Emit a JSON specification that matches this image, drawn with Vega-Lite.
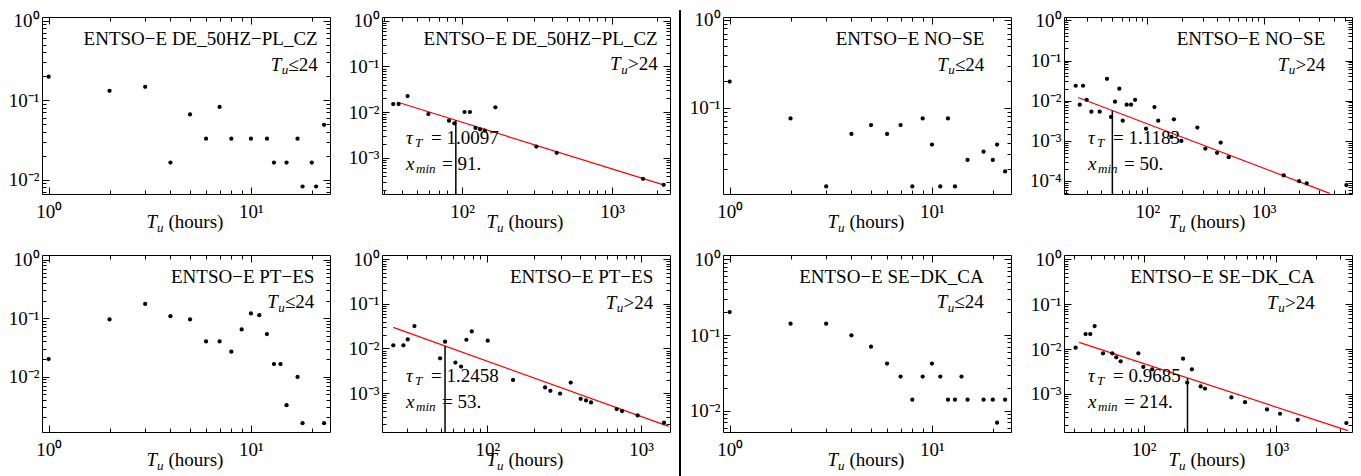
{
"$schema": "https://vega.github.io/schema/vega-lite/v6.json",
"padding": {"left": 7, "top": 8, "right": 5, "bottom": 0},
"background": "white",
"datasets": {
"points": [
{"p":"DE1","x":1,"y":0.197},{"p":"DE1","x":2,"y":0.131},{"p":"DE1","x":3,"y":0.147},{"p":"DE1","x":4,"y":0.0164},{"p":"DE1","x":5,"y":0.066},{"p":"DE1","x":6,"y":0.0328},{"p":"DE1","x":7,"y":0.082},{"p":"DE1","x":8,"y":0.0328},{"p":"DE1","x":10,"y":0.0328},{"p":"DE1","x":12,"y":0.0328},{"p":"DE1","x":13,"y":0.0164},{"p":"DE1","x":15,"y":0.0164},{"p":"DE1","x":17,"y":0.0328},{"p":"DE1","x":18,"y":0.0082},{"p":"DE1","x":20,"y":0.0164},{"p":"DE1","x":21,"y":0.0082},{"p":"DE1","x":23,"y":0.049},
{"p":"NO1","x":1,"y":0.1986},{"p":"NO1","x":2,"y":0.0755},{"p":"NO1","x":3,"y":0.01268},{"p":"NO1","x":4,"y":0.0503},{"p":"NO1","x":5,"y":0.0634},{"p":"NO1","x":6,"y":0.0503},{"p":"NO1","x":7,"y":0.0634},{"p":"NO1","x":8,"y":0.01268},{"p":"NO1","x":9,"y":0.0755},{"p":"NO1","x":10,"y":0.038},{"p":"NO1","x":11,"y":0.01268},{"p":"NO1","x":12,"y":0.0755},{"p":"NO1","x":13,"y":0.01268},{"p":"NO1","x":15,"y":0.0254},{"p":"NO1","x":18,"y":0.0316},{"p":"NO1","x":20,"y":0.0254},{"p":"NO1","x":21,"y":0.038},{"p":"NO1","x":23,"y":0.0188},
{"p":"PT1","x":1,"y":0.02},{"p":"PT1","x":2,"y":0.095},{"p":"PT1","x":3,"y":0.175},{"p":"PT1","x":4,"y":0.108},{"p":"PT1","x":5,"y":0.095},{"p":"PT1","x":6,"y":0.04},{"p":"PT1","x":7,"y":0.04},{"p":"PT1","x":8,"y":0.0267},{"p":"PT1","x":9,"y":0.064},{"p":"PT1","x":10,"y":0.12},{"p":"PT1","x":11,"y":0.112},{"p":"PT1","x":12,"y":0.0534},{"p":"PT1","x":13,"y":0.0164},{"p":"PT1","x":14,"y":0.0164},{"p":"PT1","x":15,"y":0.00325},{"p":"PT1","x":17,"y":0.00986},{"p":"PT1","x":18,"y":0.0016},{"p":"PT1","x":23,"y":0.0016},
{"p":"SE1","x":1,"y":0.201},{"p":"SE1","x":2,"y":0.141},{"p":"SE1","x":3,"y":0.141},{"p":"SE1","x":4,"y":0.099},{"p":"SE1","x":5,"y":0.0701},{"p":"SE1","x":6,"y":0.042},{"p":"SE1","x":7,"y":0.0283},{"p":"SE1","x":8,"y":0.014},{"p":"SE1","x":9,"y":0.0283},{"p":"SE1","x":10,"y":0.042},{"p":"SE1","x":11,"y":0.0283},{"p":"SE1","x":12,"y":0.014},{"p":"SE1","x":13,"y":0.014},{"p":"SE1","x":14,"y":0.0283},{"p":"SE1","x":15,"y":0.014},{"p":"SE1","x":18,"y":0.014},{"p":"SE1","x":20,"y":0.014},{"p":"SE1","x":21,"y":0.00695},{"p":"SE1","x":23,"y":0.014},
{"p":"DE2","x":34.8,"y":0.01507},{"p":"DE2","x":37.8,"y":0.01507},{"p":"DE2","x":43.4,"y":0.02254},{"p":"DE2","x":59.7,"y":0.00912},{"p":"DE2","x":81.9,"y":0.00653},{"p":"DE2","x":88.9,"y":0.0057},{"p":"DE2","x":104,"y":0.01009},{"p":"DE2","x":113,"y":0.01009},{"p":"DE2","x":123,"y":0.00452},{"p":"DE2","x":132,"y":0.00422},{"p":"DE2","x":142,"y":0.00394},{"p":"DE2","x":167,"y":0.01274},{"p":"DE2","x":313,"y":0.00177},{"p":"DE2","x":428,"y":0.00129},{"p":"DE2","x":1610,"y":0.000348},{"p":"DE2","x":2210,"y":0.000258},
{"p":"NO2","x":24.2,"y":0.0235},{"p":"NO2","x":28.0,"y":0.0235},{"p":"NO2","x":26.2,"y":0.0079},{"p":"NO2","x":30.1,"y":0.0105},{"p":"NO2","x":33.0,"y":0.0053},{"p":"NO2","x":38.9,"y":0.0053},{"p":"NO2","x":45.0,"y":0.035},{"p":"NO2","x":48.7,"y":0.00391},{"p":"NO2","x":52.7,"y":0.0094},{"p":"NO2","x":57.4,"y":0.0198},{"p":"NO2","x":61.4,"y":0.00316},{"p":"NO2","x":66.4,"y":0.0079},{"p":"NO2","x":72.4,"y":0.0079},{"p":"NO2","x":78.4,"y":0.0105},{"p":"NO2","x":97.4,"y":0.002},{"p":"NO2","x":115,"y":0.00692},{"p":"NO2","x":124,"y":0.00316},{"p":"NO2","x":161,"y":0.00124},{"p":"NO2","x":169,"y":0.00342},{"p":"NO2","x":196,"y":0.00099},{"p":"NO2","x":269,"y":0.00212},{"p":"NO2","x":315,"y":0.000637},{"p":"NO2","x":397,"y":0.000497},{"p":"NO2","x":427,"y":0.000899},{"p":"NO2","x":500,"y":0.000388},{"p":"NO2","x":1486,"y":0.000136},{"p":"NO2","x":2012,"y":0.000098},{"p":"NO2","x":2343,"y":0.000086},{"p":"NO2","x":5138,"y":0.000078},
{"p":"PT2","x":24.4,"y":0.01177},{"p":"PT2","x":28.4,"y":0.01177},{"p":"PT2","x":30.3,"y":0.016},{"p":"PT2","x":33.5,"y":0.0318},{"p":"PT2","x":49.2,"y":0.00604},{"p":"PT2","x":53.0,"y":0.0142},{"p":"PT2","x":61.9,"y":0.00483},{"p":"PT2","x":67.4,"y":0.00393},{"p":"PT2","x":73.0,"y":0.0157},{"p":"PT2","x":79.1,"y":0.0241},{"p":"PT2","x":100.5,"y":0.015},{"p":"PT2","x":146.9,"y":0.00198},{"p":"PT2","x":237.4,"y":0.00134},{"p":"PT2","x":257,"y":0.00113},{"p":"PT2","x":297,"y":0.00098},{"p":"PT2","x":348.6,"y":0.00173},{"p":"PT2","x":404.9,"y":0.000748},{"p":"PT2","x":438.6,"y":0.000686},{"p":"PT2","x":472.6,"y":0.00062},{"p":"PT2","x":694,"y":0.00044},{"p":"PT2","x":752,"y":0.000397},{"p":"PT2","x":951,"y":0.000318},{"p":"PT2","x":1411,"y":0.000218},
{"p":"SE2","x":30.7,"y":0.0107},{"p":"SE2","x":36.5,"y":0.0216},{"p":"SE2","x":39.6,"y":0.0216},{"p":"SE2","x":42.7,"y":0.0325},{"p":"SE2","x":49.4,"y":0.008},{"p":"SE2","x":58,"y":0.008},{"p":"SE2","x":62.2,"y":0.00653},{"p":"SE2","x":67.1,"y":0.00532},{"p":"SE2","x":91.2,"y":0.008},{"p":"SE2","x":99.4,"y":0.00398},{"p":"SE2","x":116,"y":0.00353},{"p":"SE2","x":198,"y":0.0061},{"p":"SE2","x":213,"y":0.00179},{"p":"SE2","x":231,"y":0.00353},{"p":"SE2","x":269,"y":0.00146},{"p":"SE2","x":290,"y":0.00131},{"p":"SE2","x":458,"y":0.00083},{"p":"SE2","x":581,"y":0.000653},{"p":"SE2","x":851,"y":0.000449},{"p":"SE2","x":1066,"y":0.00036},{"p":"SE2","x":1449,"y":0.000264},{"p":"SE2","x":3371,"y":0.000223}
],
"fits": [
{"p":"DE2","x":36.9,"y":0.01667},{"p":"DE2","x":2233,"y":0.000253},
{"p":"NO2","x":25.4,"y":0.012},{"p":"NO2","x":3690,"y":0.0000485},
{"p":"PT2","x":24.4,"y":0.02965},{"p":"PT2","x":1514,"y":0.000181},
{"p":"SE2","x":32.6,"y":0.01406},{"p":"SE2","x":3467,"y":0.000151}
],
"xmins": [
{"p":"DE2","x":91,"ylo":0.000162,"yhi":0.0067},
{"p":"NO2","x":50,"ylo":0.0000468,"yhi":0.00566},
{"p":"PT2","x":53,"ylo":0.000135,"yhi":0.01137},
{"p":"SE2","x":214,"ylo":0.000141,"yhi":0.00225}
]
},
"spacing": 7,
"hconcat": [
{"columns": 2, "spacing": {"row": 14, "column": 16}, "concat": [
{"width": 288, "height": 177, "resolve": {"axis": {"x": "independent", "y": "independent"}}, "layer": [
 {"data": {"name": "points"}, "transform": [{"filter": "datum.p === 'DE1'"}], "mark": {"type": "circle", "size": 18, "color": "black", "opacity": 1},
  "encoding": {
   "x": {"field": "x", "type": "quantitative", "scale": {"type": "log", "domain": [0.927, 24.6], "nice": false}, "axis": {"orient": "bottom", "tickColor": "black", "tickWidth": 1, "offset": -7, "tickSize": 7, "values": [1, 10], "labels": true, "labelPadding": 8, "labelExpr": "datum.value >= 999 ? '10³' : datum.value >= 99 ? '10²' : datum.value >= 9 ? '10¹' : datum.value >= 0.9 ? '10⁰' : datum.value >= 0.09 ? '10⁻¹' : datum.value >= 0.009 ? '10⁻²' : datum.value >= 0.0009 ? '10⁻³' : '10⁻⁴'", "title": "T", "titleFontStyle": "italic", "titleX": 104, "titleY": 40, "titleAlign": "left", "titleBaseline": "alphabetic"}},
   "y": {"field": "y", "type": "quantitative", "scale": {"type": "log", "domain": [0.0066, 1.11], "nice": false}, "axis": {"orient": "left", "tickColor": "black", "tickWidth": 1, "offset": -7, "tickSize": 7, "values": [0.01, 0.1, 1], "labels": true, "labelPadding": 3, "labelExpr": "datum.value >= 999 ? '10³' : datum.value >= 99 ? '10²' : datum.value >= 9 ? '10¹' : datum.value >= 0.9 ? '10⁰' : datum.value >= 0.09 ? '10⁻¹' : datum.value >= 0.009 ? '10⁻²' : datum.value >= 0.0009 ? '10⁻³' : '10⁻⁴'", "title": null}}
  }},
 {"data": {"values": [{}]}, "mark": {"type": "text", "align": "right", "text": "ENTSO−E DE_50HZ−PL_CZ"},
  "encoding": {
   "x": {"datum": 21.39, "type": "quantitative", "axis": {"orient": "bottom", "tickColor": "black", "tickWidth": 1, "offset": -4, "tickSize": 4, "values": [2,3,4,5,6,7,8,9,20], "title": "u", "titleFontStyle": "italic", "titleFontSize": 13, "titleX": 114.6, "titleY": 41, "titleAlign": "left", "titleBaseline": "alphabetic"}},
   "y": {"datum": 0.493, "type": "quantitative", "axis": {"orient": "left", "tickColor": "black", "tickWidth": 1, "offset": -4, "tickSize": 4, "values": [0.007,0.008,0.009,0.02,0.03,0.04,0.05,0.06,0.07,0.08,0.09,0.2,0.3,0.4,0.5,0.6,0.7,0.8,0.9], "title": null}}
  }},
 {"data": {"values": [{}]}, "mark": {"type": "text", "align": "right", "fontStyle": "italic", "dx": -36.5, "text": "T"},
  "encoding": {
   "x": {"datum": 21.39, "type": "quantitative", "axis": {"orient": "top", "tickColor": "black", "tickWidth": 1, "offset": -7, "tickSize": 7, "values": [1, 10], "title": null}},
   "y": {"datum": 0.2358, "type": "quantitative", "axis": {"orient": "right", "tickColor": "black", "tickWidth": 1, "offset": -7, "tickSize": 7, "values": [0.01, 0.1, 1], "title": null}}
  }},
 {"data": {"values": [{}]}, "mark": {"type": "text", "align": "right", "fontStyle": "italic", "fontSize": 13, "dx": -29.5, "dy": 3.5, "text": "u"},
  "encoding": {
   "x": {"datum": 21.39, "type": "quantitative", "axis": {"orient": "top", "tickColor": "black", "tickWidth": 1, "offset": -4, "tickSize": 4, "values": [2,3,4,5,6,7,8,9,20], "title": null}},
   "y": {"datum": 0.2358, "type": "quantitative", "axis": {"orient": "right", "tickColor": "black", "tickWidth": 1, "offset": -4, "tickSize": 4, "values": [0.007,0.008,0.009,0.02,0.03,0.04,0.05,0.06,0.07,0.08,0.09,0.2,0.3,0.4,0.5,0.6,0.7,0.8,0.9], "title": null}}
  }},
 {"data": {"values": [{}]}, "mark": {"type": "text", "align": "right", "text": "≤24"},
  "encoding": {
   "x": {"datum": 21.39, "type": "quantitative", "axis": {"orient": "bottom", "ticks": false, "values": [1], "title": "(hours)", "titleX": 126, "titleY": 33, "titleAlign": "left", "titleBaseline": "alphabetic"}},
   "y": {"datum": 0.2358, "type": "quantitative", "axis": null}
  }}
]},
{"width": 288, "height": 177, "resolve": {"axis": {"x": "independent", "y": "independent"}}, "layer": [
 {"data": {"name": "fits"}, "transform": [{"filter": "datum.p === 'DE2'"}], "mark": {"type": "line", "color": "red", "strokeWidth": 1.2},
  "encoding": {"x": {"field": "x", "type": "quantitative", "axis": null}, "y": {"field": "y", "type": "quantitative", "axis": null}}},
 {"data": {"name": "xmins"}, "transform": [{"filter": "datum.p === 'DE2'"}], "mark": {"type": "rule", "color": "black", "strokeWidth": 1.5},
  "encoding": {"x": {"field": "x", "type": "quantitative", "axis": null}, "y": {"field": "ylo", "type": "quantitative", "axis": null}, "y2": {"field": "yhi"}}},
 {"data": {"name": "points"}, "transform": [{"filter": "datum.p === 'DE2'"}], "mark": {"type": "circle", "size": 18, "color": "black", "opacity": 1},
  "encoding": {
   "x": {"field": "x", "type": "quantitative", "scale": {"type": "log", "domain": [29.3, 2436], "nice": false}, "axis": {"orient": "bottom", "tickColor": "black", "tickWidth": 1, "offset": -7, "tickSize": 7, "values": [100, 1000], "labels": true, "labelPadding": 8, "labelExpr": "datum.value >= 999 ? '10³' : datum.value >= 99 ? '10²' : datum.value >= 9 ? '10¹' : datum.value >= 0.9 ? '10⁰' : datum.value >= 0.09 ? '10⁻¹' : datum.value >= 0.009 ? '10⁻²' : datum.value >= 0.0009 ? '10⁻³' : '10⁻⁴'", "title": "T", "titleFontStyle": "italic", "titleX": 104, "titleY": 40, "titleAlign": "left", "titleBaseline": "alphabetic"}},
   "y": {"field": "y", "type": "quantitative", "scale": {"type": "log", "domain": [0.000162, 1.21], "nice": false}, "axis": {"orient": "left", "tickColor": "black", "tickWidth": 1, "offset": -7, "tickSize": 7, "values": [0.001, 0.01, 0.1, 1], "labels": true, "labelPadding": 3, "labelExpr": "datum.value >= 999 ? '10³' : datum.value >= 99 ? '10²' : datum.value >= 9 ? '10¹' : datum.value >= 0.9 ? '10⁰' : datum.value >= 0.09 ? '10⁻¹' : datum.value >= 0.009 ? '10⁻²' : datum.value >= 0.0009 ? '10⁻³' : '10⁻⁴'", "title": null}}
  }},
 {"data": {"values": [{}]}, "mark": {"type": "text", "align": "right", "text": "ENTSO−E DE_50HZ−PL_CZ"},
  "encoding": {
   "x": {"datum": 2017, "type": "quantitative", "axis": {"orient": "bottom", "tickColor": "black", "tickWidth": 1, "offset": -4, "tickSize": 4, "values": [30,40,50,60,70,80,90,200,300,400,500,600,700,800,900,2000], "title": "u", "titleFontStyle": "italic", "titleFontSize": 13, "titleX": 114.6, "titleY": 41, "titleAlign": "left", "titleBaseline": "alphabetic"}},
   "y": {"datum": 0.2954, "type": "quantitative", "axis": {"orient": "left", "tickColor": "black", "tickWidth": 1, "offset": -4, "tickSize": 4, "values": [0.0002,0.0003,0.0004,0.0005,0.0006,0.0007,0.0008,0.0009,0.002,0.003,0.004,0.005,0.006,0.007,0.008,0.009,0.02,0.03,0.04,0.05,0.06,0.07,0.08,0.09,0.2,0.3,0.4,0.5,0.6,0.7,0.8,0.9], "title": null}}
  }},
 {"data": {"values": [{}]}, "mark": {"type": "text", "align": "right", "fontStyle": "italic", "dx": -37, "text": "T"},
  "encoding": {
   "x": {"datum": 2017, "type": "quantitative", "axis": {"orient": "top", "tickColor": "black", "tickWidth": 1, "offset": -7, "tickSize": 7, "values": [100, 1000], "title": null}},
   "y": {"datum": 0.08171, "type": "quantitative", "axis": {"orient": "right", "tickColor": "black", "tickWidth": 1, "offset": -7, "tickSize": 7, "values": [0.001, 0.01, 0.1, 1], "title": null}}
  }},
 {"data": {"values": [{}]}, "mark": {"type": "text", "align": "right", "fontStyle": "italic", "fontSize": 13, "dx": -30, "dy": 3.5, "text": "u"},
  "encoding": {
   "x": {"datum": 2017, "type": "quantitative", "axis": {"orient": "top", "tickColor": "black", "tickWidth": 1, "offset": -4, "tickSize": 4, "values": [30,40,50,60,70,80,90,200,300,400,500,600,700,800,900,2000], "title": null}},
   "y": {"datum": 0.08171, "type": "quantitative", "axis": {"orient": "right", "tickColor": "black", "tickWidth": 1, "offset": -4, "tickSize": 4, "values": [0.0002,0.0003,0.0004,0.0005,0.0006,0.0007,0.0008,0.0009,0.002,0.003,0.004,0.005,0.006,0.007,0.008,0.009,0.02,0.03,0.04,0.05,0.06,0.07,0.08,0.09,0.2,0.3,0.4,0.5,0.6,0.7,0.8,0.9], "title": null}}
  }},
 {"data": {"values": [{}]}, "mark": {"type": "text", "align": "right", "text": ">24"},
  "encoding": {
   "x": {"datum": 2017, "type": "quantitative", "axis": {"orient": "bottom", "ticks": false, "values": [100], "title": "(hours)", "titleX": 126, "titleY": 33, "titleAlign": "left", "titleBaseline": "alphabetic"}},
   "y": {"datum": 0.08171, "type": "quantitative", "axis": null}
  }},
 {"data": {"values": [{}]}, "mark": {"type": "text", "align": "left", "fontStyle": "italic", "text": "τ"},
  "encoding": {"x": {"datum": 42.37, "type": "quantitative", "axis": null}, "y": {"datum": 0.002014, "type": "quantitative", "axis": null}}},
 {"data": {"values": [{}]}, "mark": {"type": "text", "align": "left", "fontStyle": "italic", "fontSize": 13, "dx": 9, "dy": 3, "text": "T"},
  "encoding": {"x": {"datum": 42.37, "type": "quantitative", "axis": null}, "y": {"datum": 0.002014, "type": "quantitative", "axis": null}}},
 {"data": {"values": [{}]}, "mark": {"type": "text", "align": "left", "dx": 25, "text": "= 1.0097"},
  "encoding": {"x": {"datum": 42.37, "type": "quantitative", "axis": null}, "y": {"datum": 0.002014, "type": "quantitative", "axis": null}}},
 {"data": {"values": [{}]}, "mark": {"type": "text", "align": "left", "fontStyle": "italic", "text": "x"},
  "encoding": {"x": {"datum": 42.37, "type": "quantitative", "axis": null}, "y": {"datum": 0.000543, "type": "quantitative", "axis": null}}},
 {"data": {"values": [{}]}, "mark": {"type": "text", "align": "left", "fontStyle": "italic", "fontSize": 13, "dx": 10, "dy": 3, "text": "min"},
  "encoding": {"x": {"datum": 42.37, "type": "quantitative", "axis": null}, "y": {"datum": 0.000543, "type": "quantitative", "axis": null}}},
 {"data": {"values": [{}]}, "mark": {"type": "text", "align": "left", "dx": 36, "text": "= 91."},
  "encoding": {"x": {"datum": 42.37, "type": "quantitative", "axis": null}, "y": {"datum": 0.000543, "type": "quantitative", "axis": null}}}
]},
{"width": 288, "height": 177, "resolve": {"axis": {"x": "independent", "y": "independent"}}, "layer": [
 {"data": {"name": "points"}, "transform": [{"filter": "datum.p === 'PT1'"}], "mark": {"type": "circle", "size": 18, "color": "black", "opacity": 1},
  "encoding": {
   "x": {"field": "x", "type": "quantitative", "scale": {"type": "log", "domain": [0.927, 24.6], "nice": false}, "axis": {"orient": "bottom", "tickColor": "black", "tickWidth": 1, "offset": -7, "tickSize": 7, "values": [1, 10], "labels": true, "labelPadding": 8, "labelExpr": "datum.value >= 999 ? '10³' : datum.value >= 99 ? '10²' : datum.value >= 9 ? '10¹' : datum.value >= 0.9 ? '10⁰' : datum.value >= 0.09 ? '10⁻¹' : datum.value >= 0.009 ? '10⁻²' : datum.value >= 0.0009 ? '10⁻³' : '10⁻⁴'", "title": "T", "titleFontStyle": "italic", "titleX": 104, "titleY": 40, "titleAlign": "left", "titleBaseline": "alphabetic"}},
   "y": {"field": "y", "type": "quantitative", "scale": {"type": "log", "domain": [0.00113, 1.2], "nice": false}, "axis": {"orient": "left", "tickColor": "black", "tickWidth": 1, "offset": -7, "tickSize": 7, "values": [0.01, 0.1, 1], "labels": true, "labelPadding": 3, "labelExpr": "datum.value >= 999 ? '10³' : datum.value >= 99 ? '10²' : datum.value >= 9 ? '10¹' : datum.value >= 0.9 ? '10⁰' : datum.value >= 0.09 ? '10⁻¹' : datum.value >= 0.009 ? '10⁻²' : datum.value >= 0.0009 ? '10⁻³' : '10⁻⁴'", "title": null}}
  }},
 {"data": {"values": [{}]}, "mark": {"type": "text", "align": "right", "text": "ENTSO−E PT−ES"},
  "encoding": {
   "x": {"datum": 20.58, "type": "quantitative", "axis": {"orient": "bottom", "tickColor": "black", "tickWidth": 1, "offset": -4, "tickSize": 4, "values": [2,3,4,5,6,7,8,9,20], "title": "u", "titleFontStyle": "italic", "titleFontSize": 13, "titleX": 114.6, "titleY": 41, "titleAlign": "left", "titleBaseline": "alphabetic"}},
   "y": {"datum": 0.3984, "type": "quantitative", "axis": {"orient": "left", "tickColor": "black", "tickWidth": 1, "offset": -4, "tickSize": 4, "values": [0.002,0.003,0.004,0.005,0.006,0.007,0.008,0.009,0.02,0.03,0.04,0.05,0.06,0.07,0.08,0.09,0.2,0.3,0.4,0.5,0.6,0.7,0.8,0.9], "title": null}}
  }},
 {"data": {"values": [{}]}, "mark": {"type": "text", "align": "right", "fontStyle": "italic", "dx": -36.5, "text": "T"},
  "encoding": {
   "x": {"datum": 20.58, "type": "quantitative", "axis": {"orient": "top", "tickColor": "black", "tickWidth": 1, "offset": -7, "tickSize": 7, "values": [1, 10], "title": null}},
   "y": {"datum": 0.1461, "type": "quantitative", "axis": {"orient": "right", "tickColor": "black", "tickWidth": 1, "offset": -7, "tickSize": 7, "values": [0.01, 0.1, 1], "title": null}}
  }},
 {"data": {"values": [{}]}, "mark": {"type": "text", "align": "right", "fontStyle": "italic", "fontSize": 13, "dx": -29.5, "dy": 3.5, "text": "u"},
  "encoding": {
   "x": {"datum": 20.58, "type": "quantitative", "axis": {"orient": "top", "tickColor": "black", "tickWidth": 1, "offset": -4, "tickSize": 4, "values": [2,3,4,5,6,7,8,9,20], "title": null}},
   "y": {"datum": 0.1461, "type": "quantitative", "axis": {"orient": "right", "tickColor": "black", "tickWidth": 1, "offset": -4, "tickSize": 4, "values": [0.002,0.003,0.004,0.005,0.006,0.007,0.008,0.009,0.02,0.03,0.04,0.05,0.06,0.07,0.08,0.09,0.2,0.3,0.4,0.5,0.6,0.7,0.8,0.9], "title": null}}
  }},
 {"data": {"values": [{}]}, "mark": {"type": "text", "align": "right", "text": "≤24"},
  "encoding": {
   "x": {"datum": 20.58, "type": "quantitative", "axis": {"orient": "bottom", "ticks": false, "values": [1], "title": "(hours)", "titleX": 126, "titleY": 33, "titleAlign": "left", "titleBaseline": "alphabetic"}},
   "y": {"datum": 0.1461, "type": "quantitative", "axis": null}
  }}
]},
{"width": 288, "height": 177, "resolve": {"axis": {"x": "independent", "y": "independent"}}, "layer": [
 {"data": {"name": "fits"}, "transform": [{"filter": "datum.p === 'PT2'"}], "mark": {"type": "line", "color": "red", "strokeWidth": 1.2},
  "encoding": {"x": {"field": "x", "type": "quantitative", "axis": null}, "y": {"field": "y", "type": "quantitative", "axis": null}}},
 {"data": {"name": "xmins"}, "transform": [{"filter": "datum.p === 'PT2'"}], "mark": {"type": "rule", "color": "black", "strokeWidth": 1.5},
  "encoding": {"x": {"field": "x", "type": "quantitative", "axis": null}, "y": {"field": "ylo", "type": "quantitative", "axis": null}, "y2": {"field": "yhi"}}},
 {"data": {"name": "points"}, "transform": [{"filter": "datum.p === 'PT2'"}], "mark": {"type": "circle", "size": 18, "color": "black", "opacity": 1},
  "encoding": {
   "x": {"field": "x", "type": "quantitative", "scale": {"type": "log", "domain": [20.6, 1544], "nice": false}, "axis": {"orient": "bottom", "tickColor": "black", "tickWidth": 1, "offset": -7, "tickSize": 7, "values": [100, 1000], "labels": true, "labelPadding": 8, "labelExpr": "datum.value >= 999 ? '10³' : datum.value >= 99 ? '10²' : datum.value >= 9 ? '10¹' : datum.value >= 0.9 ? '10⁰' : datum.value >= 0.09 ? '10⁻¹' : datum.value >= 0.009 ? '10⁻²' : datum.value >= 0.0009 ? '10⁻³' : '10⁻⁴'", "title": "T", "titleFontStyle": "italic", "titleX": 104, "titleY": 40, "titleAlign": "left", "titleBaseline": "alphabetic"}},
   "y": {"field": "y", "type": "quantitative", "scale": {"type": "log", "domain": [0.000135, 1.24], "nice": false}, "axis": {"orient": "left", "tickColor": "black", "tickWidth": 1, "offset": -7, "tickSize": 7, "values": [0.001, 0.01, 0.1, 1], "labels": true, "labelPadding": 3, "labelExpr": "datum.value >= 999 ? '10³' : datum.value >= 99 ? '10²' : datum.value >= 9 ? '10¹' : datum.value >= 0.9 ? '10⁰' : datum.value >= 0.09 ? '10⁻¹' : datum.value >= 0.009 ? '10⁻²' : datum.value >= 0.0009 ? '10⁻³' : '10⁻⁴'", "title": null}}
  }},
 {"data": {"values": [{}]}, "mark": {"type": "text", "align": "right", "text": "ENTSO−E PT−ES"},
  "encoding": {
   "x": {"datum": 1202, "type": "quantitative", "axis": {"orient": "bottom", "tickColor": "black", "tickWidth": 1, "offset": -4, "tickSize": 4, "values": [30,40,50,60,70,80,90,200,300,400,500,600,700,800,900], "title": "u", "titleFontStyle": "italic", "titleFontSize": 13, "titleX": 114.6, "titleY": 41, "titleAlign": "left", "titleBaseline": "alphabetic"}},
   "y": {"datum": 0.2924, "type": "quantitative", "axis": {"orient": "left", "tickColor": "black", "tickWidth": 1, "offset": -4, "tickSize": 4, "values": [0.0002,0.0003,0.0004,0.0005,0.0006,0.0007,0.0008,0.0009,0.002,0.003,0.004,0.005,0.006,0.007,0.008,0.009,0.02,0.03,0.04,0.05,0.06,0.07,0.08,0.09,0.2,0.3,0.4,0.5,0.6,0.7,0.8,0.9], "title": null}}
  }},
 {"data": {"values": [{}]}, "mark": {"type": "text", "align": "right", "fontStyle": "italic", "dx": -37, "text": "T"},
  "encoding": {
   "x": {"datum": 1202, "type": "quantitative", "axis": {"orient": "top", "tickColor": "black", "tickWidth": 1, "offset": -7, "tickSize": 7, "values": [100, 1000], "title": null}},
   "y": {"datum": 0.07852, "type": "quantitative", "axis": {"orient": "right", "tickColor": "black", "tickWidth": 1, "offset": -7, "tickSize": 7, "values": [0.001, 0.01, 0.1, 1], "title": null}}
  }},
 {"data": {"values": [{}]}, "mark": {"type": "text", "align": "right", "fontStyle": "italic", "fontSize": 13, "dx": -30, "dy": 3.5, "text": "u"},
  "encoding": {
   "x": {"datum": 1202, "type": "quantitative", "axis": {"orient": "top", "tickColor": "black", "tickWidth": 1, "offset": -4, "tickSize": 4, "values": [30,40,50,60,70,80,90,200,300,400,500,600,700,800,900], "title": null}},
   "y": {"datum": 0.07852, "type": "quantitative", "axis": {"orient": "right", "tickColor": "black", "tickWidth": 1, "offset": -4, "tickSize": 4, "values": [0.0002,0.0003,0.0004,0.0005,0.0006,0.0007,0.0008,0.0009,0.002,0.003,0.004,0.005,0.006,0.007,0.008,0.009,0.02,0.03,0.04,0.05,0.06,0.07,0.08,0.09,0.2,0.3,0.4,0.5,0.6,0.7,0.8,0.9], "title": null}}
  }},
 {"data": {"values": [{}]}, "mark": {"type": "text", "align": "right", "text": ">24"},
  "encoding": {
   "x": {"datum": 1202, "type": "quantitative", "axis": {"orient": "bottom", "ticks": false, "values": [100], "title": "(hours)", "titleX": 126, "titleY": 33, "titleAlign": "left", "titleBaseline": "alphabetic"}},
   "y": {"datum": 0.07852, "type": "quantitative", "axis": null}
  }},
 {"data": {"values": [{}]}, "mark": {"type": "text", "align": "left", "fontStyle": "italic", "text": "τ"},
  "encoding": {"x": {"datum": 29.52, "type": "quantitative", "axis": null}, "y": {"datum": 0.001775, "type": "quantitative", "axis": null}}},
 {"data": {"values": [{}]}, "mark": {"type": "text", "align": "left", "fontStyle": "italic", "fontSize": 13, "dx": 9, "dy": 3, "text": "T"},
  "encoding": {"x": {"datum": 29.52, "type": "quantitative", "axis": null}, "y": {"datum": 0.001775, "type": "quantitative", "axis": null}}},
 {"data": {"values": [{}]}, "mark": {"type": "text", "align": "left", "dx": 25, "text": "= 1.2458"},
  "encoding": {"x": {"datum": 29.52, "type": "quantitative", "axis": null}, "y": {"datum": 0.001775, "type": "quantitative", "axis": null}}},
 {"data": {"values": [{}]}, "mark": {"type": "text", "align": "left", "fontStyle": "italic", "text": "x"},
  "encoding": {"x": {"datum": 29.52, "type": "quantitative", "axis": null}, "y": {"datum": 0.0004646, "type": "quantitative", "axis": null}}},
 {"data": {"values": [{}]}, "mark": {"type": "text", "align": "left", "fontStyle": "italic", "fontSize": 13, "dx": 10, "dy": 3, "text": "min"},
  "encoding": {"x": {"datum": 29.52, "type": "quantitative", "axis": null}, "y": {"datum": 0.0004646, "type": "quantitative", "axis": null}}},
 {"data": {"values": [{}]}, "mark": {"type": "text", "align": "left", "dx": 36, "text": "= 53."},
  "encoding": {"x": {"datum": 29.52, "type": "quantitative", "axis": null}, "y": {"datum": 0.0004646, "type": "quantitative", "axis": null}}}
]}
]},
{"width": 2, "height": 461, "view": {"stroke": null}, "data": {"values": [{}]},
 "mark": {"type": "rule", "color": "black", "strokeWidth": 2},
 "encoding": {
  "x": {"datum": 0.5, "type": "quantitative", "scale": {"domain": [0, 1]}, "axis": null},
  "y": {"datum": 0, "type": "quantitative", "scale": {"domain": [0, 1], "nice": false, "zero": false}, "axis": null},
  "y2": {"datum": 1.0152}
 }},
{"columns": 2, "spacing": {"row": 14, "column": 16}, "concat": [
{"width": 288, "height": 177, "resolve": {"axis": {"x": "independent", "y": "independent"}}, "layer": [
 {"data": {"name": "points"}, "transform": [{"filter": "datum.p === 'NO1'"}], "mark": {"type": "circle", "size": 18, "color": "black", "opacity": 1},
  "encoding": {
   "x": {"field": "x", "type": "quantitative", "scale": {"type": "log", "domain": [0.927, 24.6], "nice": false}, "axis": {"orient": "bottom", "tickColor": "black", "tickWidth": 1, "offset": -7, "tickSize": 7, "values": [1, 10], "labels": true, "labelPadding": 8, "labelExpr": "datum.value >= 999 ? '10³' : datum.value >= 99 ? '10²' : datum.value >= 9 ? '10¹' : datum.value >= 0.9 ? '10⁰' : datum.value >= 0.09 ? '10⁻¹' : datum.value >= 0.009 ? '10⁻²' : datum.value >= 0.0009 ? '10⁻³' : '10⁻⁴'", "title": "T", "titleFontStyle": "italic", "titleX": 104, "titleY": 40, "titleAlign": "left", "titleBaseline": "alphabetic"}},
   "y": {"field": "y", "type": "quantitative", "scale": {"type": "log", "domain": [0.0104, 1.08], "nice": false}, "axis": {"orient": "left", "tickColor": "black", "tickWidth": 1, "offset": -7, "tickSize": 7, "values": [0.1, 1], "labels": true, "labelPadding": 3, "labelExpr": "datum.value >= 999 ? '10³' : datum.value >= 99 ? '10²' : datum.value >= 9 ? '10¹' : datum.value >= 0.9 ? '10⁰' : datum.value >= 0.09 ? '10⁻¹' : datum.value >= 0.009 ? '10⁻²' : datum.value >= 0.0009 ? '10⁻³' : '10⁻⁴'", "title": null}}
  }},
 {"data": {"values": [{}]}, "mark": {"type": "text", "align": "right", "text": "ENTSO−E NO−SE"},
  "encoding": {
   "x": {"datum": 18.16, "type": "quantitative", "axis": {"orient": "bottom", "tickColor": "black", "tickWidth": 1, "offset": -4, "tickSize": 4, "values": [2,3,4,5,6,7,8,9,20], "title": "u", "titleFontStyle": "italic", "titleFontSize": 13, "titleX": 114.6, "titleY": 41, "titleAlign": "left", "titleBaseline": "alphabetic"}},
   "y": {"datum": 0.5176, "type": "quantitative", "axis": {"orient": "left", "tickColor": "black", "tickWidth": 1, "offset": -4, "tickSize": 4, "values": [0.02,0.03,0.04,0.05,0.06,0.07,0.08,0.09,0.2,0.3,0.4,0.5,0.6,0.7,0.8,0.9], "title": null}}
  }},
 {"data": {"values": [{}]}, "mark": {"type": "text", "align": "right", "fontStyle": "italic", "dx": -36.5, "text": "T"},
  "encoding": {
   "x": {"datum": 18.16, "type": "quantitative", "axis": {"orient": "top", "tickColor": "black", "tickWidth": 1, "offset": -7, "tickSize": 7, "values": [1, 10], "title": null}},
   "y": {"datum": 0.2654, "type": "quantitative", "axis": {"orient": "right", "tickColor": "black", "tickWidth": 1, "offset": -7, "tickSize": 7, "values": [0.1, 1], "title": null}}
  }},
 {"data": {"values": [{}]}, "mark": {"type": "text", "align": "right", "fontStyle": "italic", "fontSize": 13, "dx": -29.5, "dy": 3.5, "text": "u"},
  "encoding": {
   "x": {"datum": 18.16, "type": "quantitative", "axis": {"orient": "top", "tickColor": "black", "tickWidth": 1, "offset": -4, "tickSize": 4, "values": [2,3,4,5,6,7,8,9,20], "title": null}},
   "y": {"datum": 0.2654, "type": "quantitative", "axis": {"orient": "right", "tickColor": "black", "tickWidth": 1, "offset": -4, "tickSize": 4, "values": [0.02,0.03,0.04,0.05,0.06,0.07,0.08,0.09,0.2,0.3,0.4,0.5,0.6,0.7,0.8,0.9], "title": null}}
  }},
 {"data": {"values": [{}]}, "mark": {"type": "text", "align": "right", "text": "≤24"},
  "encoding": {
   "x": {"datum": 18.16, "type": "quantitative", "axis": {"orient": "bottom", "ticks": false, "values": [1], "title": "(hours)", "titleX": 126, "titleY": 33, "titleAlign": "left", "titleBaseline": "alphabetic"}},
   "y": {"datum": 0.2654, "type": "quantitative", "axis": null}
  }}
]},
{"width": 288, "height": 177, "resolve": {"axis": {"x": "independent", "y": "independent"}}, "layer": [
 {"data": {"name": "fits"}, "transform": [{"filter": "datum.p === 'NO2'"}], "mark": {"type": "line", "color": "red", "strokeWidth": 1.2},
  "encoding": {"x": {"field": "x", "type": "quantitative", "axis": null}, "y": {"field": "y", "type": "quantitative", "axis": null}}},
 {"data": {"name": "xmins"}, "transform": [{"filter": "datum.p === 'NO2'"}], "mark": {"type": "rule", "color": "black", "strokeWidth": 1.5},
  "encoding": {"x": {"field": "x", "type": "quantitative", "axis": null}, "y": {"field": "ylo", "type": "quantitative", "axis": null}, "y2": {"field": "yhi"}}},
 {"data": {"name": "points"}, "transform": [{"filter": "datum.p === 'NO2'"}], "mark": {"type": "circle", "size": 18, "color": "black", "opacity": 1},
  "encoding": {
   "x": {"field": "x", "type": "quantitative", "scale": {"type": "log", "domain": [19.2, 5740], "nice": false}, "axis": {"orient": "bottom", "tickColor": "black", "tickWidth": 1, "offset": -7, "tickSize": 7, "values": [100, 1000], "labels": true, "labelPadding": 8, "labelExpr": "datum.value >= 999 ? '10³' : datum.value >= 99 ? '10²' : datum.value >= 9 ? '10¹' : datum.value >= 0.9 ? '10⁰' : datum.value >= 0.09 ? '10⁻¹' : datum.value >= 0.009 ? '10⁻²' : datum.value >= 0.0009 ? '10⁻³' : '10⁻⁴'", "title": "T", "titleFontStyle": "italic", "titleX": 104, "titleY": 40, "titleAlign": "left", "titleBaseline": "alphabetic"}},
   "y": {"field": "y", "type": "quantitative", "scale": {"type": "log", "domain": [0.0000468, 1.22], "nice": false}, "axis": {"orient": "left", "tickColor": "black", "tickWidth": 1, "offset": -7, "tickSize": 7, "values": [0.0001, 0.001, 0.01, 0.1, 1], "labels": true, "labelPadding": 3, "labelExpr": "datum.value >= 999 ? '10³' : datum.value >= 99 ? '10²' : datum.value >= 9 ? '10¹' : datum.value >= 0.9 ? '10⁰' : datum.value >= 0.09 ? '10⁻¹' : datum.value >= 0.009 ? '10⁻²' : datum.value >= 0.0009 ? '10⁻³' : '10⁻⁴'", "title": null}}
  }},
 {"data": {"values": [{}]}, "mark": {"type": "text", "align": "right", "text": "ENTSO−E NO−SE"},
  "encoding": {
   "x": {"datum": 3382, "type": "quantitative", "axis": {"orient": "bottom", "tickColor": "black", "tickWidth": 1, "offset": -4, "tickSize": 4, "values": [20,30,40,50,60,70,80,90,200,300,400,500,600,700,800,900,2000,3000,4000,5000], "title": "u", "titleFontStyle": "italic", "titleFontSize": 13, "titleX": 114.6, "titleY": 41, "titleAlign": "left", "titleBaseline": "alphabetic"}},
   "y": {"datum": 0.244, "type": "quantitative", "axis": {"orient": "left", "tickColor": "black", "tickWidth": 1, "offset": -4, "tickSize": 4, "values": [0.00005,0.00006,0.00007,0.00008,0.00009,0.0002,0.0003,0.0004,0.0005,0.0006,0.0007,0.0008,0.0009,0.002,0.003,0.004,0.005,0.006,0.007,0.008,0.009,0.02,0.03,0.04,0.05,0.06,0.07,0.08,0.09,0.2,0.3,0.4,0.5,0.6,0.7,0.8,0.9], "title": null}}
  }},
 {"data": {"values": [{}]}, "mark": {"type": "text", "align": "right", "fontStyle": "italic", "dx": -37, "text": "T"},
  "encoding": {
   "x": {"datum": 3382, "type": "quantitative", "axis": {"orient": "top", "tickColor": "black", "tickWidth": 1, "offset": -7, "tickSize": 7, "values": [100, 1000], "title": null}},
   "y": {"datum": 0.05638, "type": "quantitative", "axis": {"orient": "right", "tickColor": "black", "tickWidth": 1, "offset": -7, "tickSize": 7, "values": [0.0001, 0.001, 0.01, 0.1, 1], "title": null}}
  }},
 {"data": {"values": [{}]}, "mark": {"type": "text", "align": "right", "fontStyle": "italic", "fontSize": 13, "dx": -30, "dy": 3.5, "text": "u"},
  "encoding": {
   "x": {"datum": 3382, "type": "quantitative", "axis": {"orient": "top", "tickColor": "black", "tickWidth": 1, "offset": -4, "tickSize": 4, "values": [20,30,40,50,60,70,80,90,200,300,400,500,600,700,800,900,2000,3000,4000,5000], "title": null}},
   "y": {"datum": 0.05638, "type": "quantitative", "axis": {"orient": "right", "tickColor": "black", "tickWidth": 1, "offset": -4, "tickSize": 4, "values": [0.00005,0.00006,0.00007,0.00008,0.00009,0.0002,0.0003,0.0004,0.0005,0.0006,0.0007,0.0008,0.0009,0.002,0.003,0.004,0.005,0.006,0.007,0.008,0.009,0.02,0.03,0.04,0.05,0.06,0.07,0.08,0.09,0.2,0.3,0.4,0.5,0.6,0.7,0.8,0.9], "title": null}}
  }},
 {"data": {"values": [{}]}, "mark": {"type": "text", "align": "right", "text": ">24"},
  "encoding": {
   "x": {"datum": 3382, "type": "quantitative", "axis": {"orient": "bottom", "ticks": false, "values": [100], "title": "(hours)", "titleX": 126, "titleY": 33, "titleAlign": "left", "titleBaseline": "alphabetic"}},
   "y": {"datum": 0.05638, "type": "quantitative", "axis": null}
  }},
 {"data": {"values": [{}]}, "mark": {"type": "text", "align": "left", "fontStyle": "italic", "text": "τ"},
  "encoding": {"x": {"datum": 30.88, "type": "quantitative", "axis": null}, "y": {"datum": 0.000827, "type": "quantitative", "axis": null}}},
 {"data": {"values": [{}]}, "mark": {"type": "text", "align": "left", "fontStyle": "italic", "fontSize": 13, "dx": 9, "dy": 3, "text": "T"},
  "encoding": {"x": {"datum": 30.88, "type": "quantitative", "axis": null}, "y": {"datum": 0.000827, "type": "quantitative", "axis": null}}},
 {"data": {"values": [{}]}, "mark": {"type": "text", "align": "left", "dx": 25, "text": "= 1.1183"},
  "encoding": {"x": {"datum": 30.88, "type": "quantitative", "axis": null}, "y": {"datum": 0.000827, "type": "quantitative", "axis": null}}},
 {"data": {"values": [{}]}, "mark": {"type": "text", "align": "left", "fontStyle": "italic", "text": "x"},
  "encoding": {"x": {"datum": 30.88, "type": "quantitative", "axis": null}, "y": {"datum": 0.0001856, "type": "quantitative", "axis": null}}},
 {"data": {"values": [{}]}, "mark": {"type": "text", "align": "left", "fontStyle": "italic", "fontSize": 13, "dx": 10, "dy": 3, "text": "min"},
  "encoding": {"x": {"datum": 30.88, "type": "quantitative", "axis": null}, "y": {"datum": 0.0001856, "type": "quantitative", "axis": null}}},
 {"data": {"values": [{}]}, "mark": {"type": "text", "align": "left", "dx": 36, "text": "= 50."},
  "encoding": {"x": {"datum": 30.88, "type": "quantitative", "axis": null}, "y": {"datum": 0.0001856, "type": "quantitative", "axis": null}}}
]},
{"width": 288, "height": 177, "resolve": {"axis": {"x": "independent", "y": "independent"}}, "layer": [
 {"data": {"name": "points"}, "transform": [{"filter": "datum.p === 'SE1'"}], "mark": {"type": "circle", "size": 18, "color": "black", "opacity": 1},
  "encoding": {
   "x": {"field": "x", "type": "quantitative", "scale": {"type": "log", "domain": [0.927, 24.6], "nice": false}, "axis": {"orient": "bottom", "tickColor": "black", "tickWidth": 1, "offset": -7, "tickSize": 7, "values": [1, 10], "labels": true, "labelPadding": 8, "labelExpr": "datum.value >= 999 ? '10³' : datum.value >= 99 ? '10²' : datum.value >= 9 ? '10¹' : datum.value >= 0.9 ? '10⁰' : datum.value >= 0.09 ? '10⁻¹' : datum.value >= 0.009 ? '10⁻²' : datum.value >= 0.0009 ? '10⁻³' : '10⁻⁴'", "title": "T", "titleFontStyle": "italic", "titleX": 104, "titleY": 40, "titleAlign": "left", "titleBaseline": "alphabetic"}},
   "y": {"field": "y", "type": "quantitative", "scale": {"type": "log", "domain": [0.00524, 1.14], "nice": false}, "axis": {"orient": "left", "tickColor": "black", "tickWidth": 1, "offset": -7, "tickSize": 7, "values": [0.01, 0.1, 1], "labels": true, "labelPadding": 3, "labelExpr": "datum.value >= 999 ? '10³' : datum.value >= 99 ? '10²' : datum.value >= 9 ? '10¹' : datum.value >= 0.9 ? '10⁰' : datum.value >= 0.09 ? '10⁻¹' : datum.value >= 0.009 ? '10⁻²' : datum.value >= 0.0009 ? '10⁻³' : '10⁻⁴'", "title": null}}
  }},
 {"data": {"values": [{}]}, "mark": {"type": "text", "align": "right", "text": "ENTSO−E SE−DK_CA"},
  "encoding": {
   "x": {"datum": 18.03, "type": "quantitative", "axis": {"orient": "bottom", "tickColor": "black", "tickWidth": 1, "offset": -4, "tickSize": 4, "values": [2,3,4,5,6,7,8,9,20], "title": "u", "titleFontStyle": "italic", "titleFontSize": 13, "titleX": 114.6, "titleY": 41, "titleAlign": "left", "titleBaseline": "alphabetic"}},
   "y": {"datum": 0.4865, "type": "quantitative", "axis": {"orient": "left", "tickColor": "black", "tickWidth": 1, "offset": -4, "tickSize": 4, "values": [0.006,0.007,0.008,0.009,0.02,0.03,0.04,0.05,0.06,0.07,0.08,0.09,0.2,0.3,0.4,0.5,0.6,0.7,0.8,0.9], "title": null}}
  }},
 {"data": {"values": [{}]}, "mark": {"type": "text", "align": "right", "fontStyle": "italic", "dx": -36.5, "text": "T"},
  "encoding": {
   "x": {"datum": 18.03, "type": "quantitative", "axis": {"orient": "top", "tickColor": "black", "tickWidth": 1, "offset": -7, "tickSize": 7, "values": [1, 10], "title": null}},
   "y": {"datum": 0.2241, "type": "quantitative", "axis": {"orient": "right", "tickColor": "black", "tickWidth": 1, "offset": -7, "tickSize": 7, "values": [0.01, 0.1, 1], "title": null}}
  }},
 {"data": {"values": [{}]}, "mark": {"type": "text", "align": "right", "fontStyle": "italic", "fontSize": 13, "dx": -29.5, "dy": 3.5, "text": "u"},
  "encoding": {
   "x": {"datum": 18.03, "type": "quantitative", "axis": {"orient": "top", "tickColor": "black", "tickWidth": 1, "offset": -4, "tickSize": 4, "values": [2,3,4,5,6,7,8,9,20], "title": null}},
   "y": {"datum": 0.2241, "type": "quantitative", "axis": {"orient": "right", "tickColor": "black", "tickWidth": 1, "offset": -4, "tickSize": 4, "values": [0.006,0.007,0.008,0.009,0.02,0.03,0.04,0.05,0.06,0.07,0.08,0.09,0.2,0.3,0.4,0.5,0.6,0.7,0.8,0.9], "title": null}}
  }},
 {"data": {"values": [{}]}, "mark": {"type": "text", "align": "right", "text": "≤24"},
  "encoding": {
   "x": {"datum": 18.03, "type": "quantitative", "axis": {"orient": "bottom", "ticks": false, "values": [1], "title": "(hours)", "titleX": 126, "titleY": 33, "titleAlign": "left", "titleBaseline": "alphabetic"}},
   "y": {"datum": 0.2241, "type": "quantitative", "axis": null}
  }}
]},
{"width": 288, "height": 177, "resolve": {"axis": {"x": "independent", "y": "independent"}}, "layer": [
 {"data": {"name": "fits"}, "transform": [{"filter": "datum.p === 'SE2'"}], "mark": {"type": "line", "color": "red", "strokeWidth": 1.2},
  "encoding": {"x": {"field": "x", "type": "quantitative", "axis": null}, "y": {"field": "y", "type": "quantitative", "axis": null}}},
 {"data": {"name": "xmins"}, "transform": [{"filter": "datum.p === 'SE2'"}], "mark": {"type": "rule", "color": "black", "strokeWidth": 1.5},
  "encoding": {"x": {"field": "x", "type": "quantitative", "axis": null}, "y": {"field": "ylo", "type": "quantitative", "axis": null}, "y2": {"field": "yhi"}}},
 {"data": {"name": "points"}, "transform": [{"filter": "datum.p === 'SE2'"}], "mark": {"type": "circle", "size": 18, "color": "black", "opacity": 1},
  "encoding": {
   "x": {"field": "x", "type": "quantitative", "scale": {"type": "log", "domain": [25.1, 3718], "nice": false}, "axis": {"orient": "bottom", "tickColor": "black", "tickWidth": 1, "offset": -7, "tickSize": 7, "values": [100, 1000], "labels": true, "labelPadding": 8, "labelExpr": "datum.value >= 999 ? '10³' : datum.value >= 99 ? '10²' : datum.value >= 9 ? '10¹' : datum.value >= 0.9 ? '10⁰' : datum.value >= 0.09 ? '10⁻¹' : datum.value >= 0.009 ? '10⁻²' : datum.value >= 0.0009 ? '10⁻³' : '10⁻⁴'", "title": "T", "titleFontStyle": "italic", "titleX": 104, "titleY": 40, "titleAlign": "left", "titleBaseline": "alphabetic"}},
   "y": {"field": "y", "type": "quantitative", "scale": {"type": "log", "domain": [0.000141, 1.25], "nice": false}, "axis": {"orient": "left", "tickColor": "black", "tickWidth": 1, "offset": -7, "tickSize": 7, "values": [0.001, 0.01, 0.1, 1], "labels": true, "labelPadding": 3, "labelExpr": "datum.value >= 999 ? '10³' : datum.value >= 99 ? '10²' : datum.value >= 9 ? '10¹' : datum.value >= 0.9 ? '10⁰' : datum.value >= 0.09 ? '10⁻¹' : datum.value >= 0.009 ? '10⁻²' : datum.value >= 0.0009 ? '10⁻³' : '10⁻⁴'", "title": null}}
  }},
 {"data": {"values": [{}]}, "mark": {"type": "text", "align": "right", "text": "ENTSO−E SE−DK_CA"},
  "encoding": {
   "x": {"datum": 1946, "type": "quantitative", "axis": {"orient": "bottom", "tickColor": "black", "tickWidth": 1, "offset": -4, "tickSize": 4, "values": [30,40,50,60,70,80,90,200,300,400,500,600,700,800,900,2000,3000], "title": "u", "titleFontStyle": "italic", "titleFontSize": 13, "titleX": 114.6, "titleY": 41, "titleAlign": "left", "titleBaseline": "alphabetic"}},
   "y": {"datum": 0.2968, "type": "quantitative", "axis": {"orient": "left", "tickColor": "black", "tickWidth": 1, "offset": -4, "tickSize": 4, "values": [0.0002,0.0003,0.0004,0.0005,0.0006,0.0007,0.0008,0.0009,0.002,0.003,0.004,0.005,0.006,0.007,0.008,0.009,0.02,0.03,0.04,0.05,0.06,0.07,0.08,0.09,0.2,0.3,0.4,0.5,0.6,0.7,0.8,0.9], "title": null}}
  }},
 {"data": {"values": [{}]}, "mark": {"type": "text", "align": "right", "fontStyle": "italic", "dx": -37, "text": "T"},
  "encoding": {
   "x": {"datum": 1946, "type": "quantitative", "axis": {"orient": "top", "tickColor": "black", "tickWidth": 1, "offset": -7, "tickSize": 7, "values": [100, 1000], "title": null}},
   "y": {"datum": 0.08009, "type": "quantitative", "axis": {"orient": "right", "tickColor": "black", "tickWidth": 1, "offset": -7, "tickSize": 7, "values": [0.001, 0.01, 0.1, 1], "title": null}}
  }},
 {"data": {"values": [{}]}, "mark": {"type": "text", "align": "right", "fontStyle": "italic", "fontSize": 13, "dx": -30, "dy": 3.5, "text": "u"},
  "encoding": {
   "x": {"datum": 1946, "type": "quantitative", "axis": {"orient": "top", "tickColor": "black", "tickWidth": 1, "offset": -4, "tickSize": 4, "values": [30,40,50,60,70,80,90,200,300,400,500,600,700,800,900,2000,3000], "title": null}},
   "y": {"datum": 0.08009, "type": "quantitative", "axis": {"orient": "right", "tickColor": "black", "tickWidth": 1, "offset": -4, "tickSize": 4, "values": [0.0002,0.0003,0.0004,0.0005,0.0006,0.0007,0.0008,0.0009,0.002,0.003,0.004,0.005,0.006,0.007,0.008,0.009,0.02,0.03,0.04,0.05,0.06,0.07,0.08,0.09,0.2,0.3,0.4,0.5,0.6,0.7,0.8,0.9], "title": null}}
  }},
 {"data": {"values": [{}]}, "mark": {"type": "text", "align": "right", "text": ">24"},
  "encoding": {
   "x": {"datum": 1946, "type": "quantitative", "axis": {"orient": "bottom", "ticks": false, "values": [100], "title": "(hours)", "titleX": 126, "titleY": 33, "titleAlign": "left", "titleBaseline": "alphabetic"}},
   "y": {"datum": 0.08009, "type": "quantitative", "axis": null}
  }},
 {"data": {"values": [{}]}, "mark": {"type": "text", "align": "left", "fontStyle": "italic", "text": "τ"},
  "encoding": {"x": {"datum": 38.07, "type": "quantitative", "axis": null}, "y": {"datum": 0.001836, "type": "quantitative", "axis": null}}},
 {"data": {"values": [{}]}, "mark": {"type": "text", "align": "left", "fontStyle": "italic", "fontSize": 13, "dx": 9, "dy": 3, "text": "T"},
  "encoding": {"x": {"datum": 38.07, "type": "quantitative", "axis": null}, "y": {"datum": 0.001836, "type": "quantitative", "axis": null}}},
 {"data": {"values": [{}]}, "mark": {"type": "text", "align": "left", "dx": 25, "text": "= 0.9685"},
  "encoding": {"x": {"datum": 38.07, "type": "quantitative", "axis": null}, "y": {"datum": 0.001836, "type": "quantitative", "axis": null}}},
 {"data": {"values": [{}]}, "mark": {"type": "text", "align": "left", "fontStyle": "italic", "text": "x"},
  "encoding": {"x": {"datum": 38.07, "type": "quantitative", "axis": null}, "y": {"datum": 0.000483, "type": "quantitative", "axis": null}}},
 {"data": {"values": [{}]}, "mark": {"type": "text", "align": "left", "fontStyle": "italic", "fontSize": 13, "dx": 10, "dy": 3, "text": "min"},
  "encoding": {"x": {"datum": 38.07, "type": "quantitative", "axis": null}, "y": {"datum": 0.000483, "type": "quantitative", "axis": null}}},
 {"data": {"values": [{}]}, "mark": {"type": "text", "align": "left", "dx": 36, "text": "= 214."},
  "encoding": {"x": {"datum": 38.07, "type": "quantitative", "axis": null}, "y": {"datum": 0.000483, "type": "quantitative", "axis": null}}}
]}
]}
],
"config": {
 "font": "Liberation Serif",
 "view": {"stroke": "black", "strokeWidth": 1},
 "axis": {"domain": false, "grid": false, "ticks": true, "tickOpacity": 1, "zindex": 1, "labels": false, "minExtent": 0, "labelFont": "Liberation Serif", "labelFontSize": 19, "labelColor": "black", "labelFlush": false, "labelOverlap": false, "labelBound": false, "titleFont": "Liberation Serif", "titleFontSize": 19, "titleFontWeight": "normal", "titleColor": "black"},
 "text": {"font": "Liberation Serif", "fontSize": 19, "color": "black", "baseline": "alphabetic"}
}
}
